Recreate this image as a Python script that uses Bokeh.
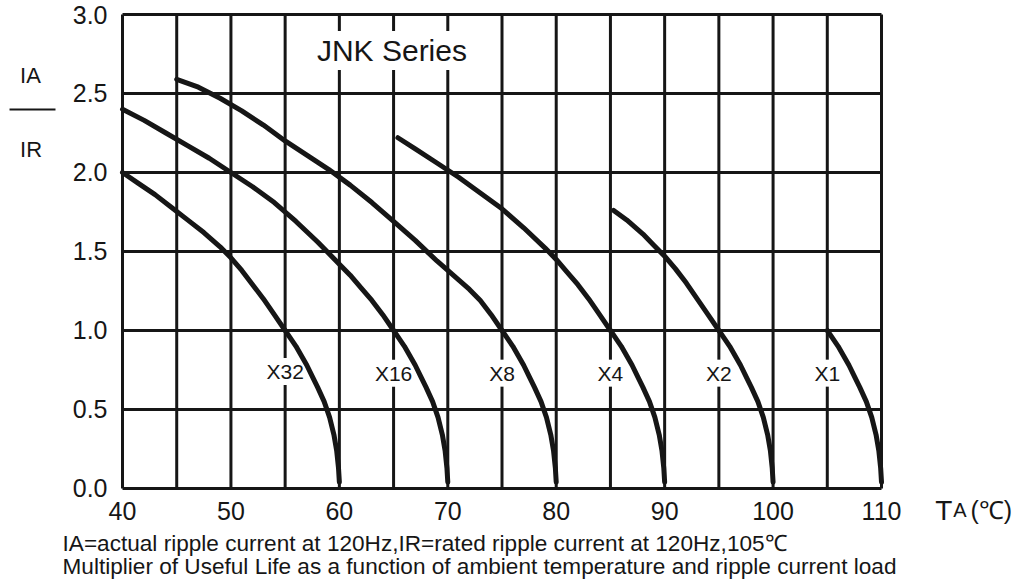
from bokeh.plotting import figure
from bokeh.models import (Range1d, FixedTicker, PrintfTickFormatter, Label, Arrow,
                          ColumnDataSource, LinearAxis)
from bokeh.core.properties import value
from bokeh.embed import file_html
from bokeh.resources import INLINE

# ---- data ----
x32_t = [40, 41.5, 43, 44.5, 46, 47.5, 49, 50, 51, 52, 53, 54, 55,
         55.5, 56, 56.5, 57, 57.5, 58, 58.6, 59.1, 59.5, 59.75, 59.92, 60]
x32_r = [2.00, 1.93, 1.86, 1.78, 1.70, 1.62, 1.53, 1.46, 1.38, 1.29, 1.20, 1.10, 1.00,
         0.95, 0.90, 0.84, 0.78, 0.71, 0.64, 0.55, 0.45, 0.34, 0.24, 0.13, 0.04]

x16_t = [40, 42, 44, 46, 48, 50, 52, 54, 56, 58, 60, 61, 62, 63, 64, 65,
         65.5, 66, 66.5, 67, 67.5, 68, 68.6, 69.1, 69.5, 69.75, 69.92, 70]
x16_r = [2.40, 2.33, 2.25, 2.17, 2.09, 2.00, 1.91, 1.81, 1.69, 1.56, 1.42, 1.35, 1.27, 1.19, 1.10, 1.00,
         0.95, 0.90, 0.84, 0.78, 0.71, 0.64, 0.55, 0.45, 0.34, 0.24, 0.13, 0.04]

x8_t = [45, 47, 49, 51, 53, 55, 57, 59, 61, 63, 65, 67, 69, 70, 71, 72, 73, 74, 75,
        75.5, 76, 76.5, 77, 77.5, 78, 78.6, 79.1, 79.5, 79.75, 79.92, 80]
x8_r = [2.59, 2.54, 2.47, 2.39, 2.30, 2.20, 2.11, 2.02, 1.92, 1.81, 1.69, 1.57, 1.44, 1.38, 1.32, 1.26, 1.19, 1.10, 1.00,
        0.95, 0.90, 0.84, 0.78, 0.71, 0.64, 0.55, 0.45, 0.34, 0.24, 0.13, 0.04]

x4_t = [65.4, 67, 69, 71, 73, 75, 77, 79, 80, 81, 82, 83, 84, 85,
        85.5, 86, 86.5, 87, 87.5, 88, 88.6, 89.1, 89.5, 89.75, 89.92, 90]
x4_r = [2.22, 2.15, 2.06, 1.97, 1.87, 1.77, 1.65, 1.52, 1.45, 1.37, 1.29, 1.20, 1.10, 1.00,
        0.95, 0.90, 0.84, 0.78, 0.71, 0.64, 0.55, 0.45, 0.34, 0.24, 0.13, 0.04]

x2_t = [85.3, 86.5, 88, 89, 90, 91, 92, 93, 94, 95,
        95.5, 96, 96.5, 97, 97.5, 98, 98.6, 99.1, 99.5, 99.75, 99.92, 100]
x2_r = [1.76, 1.70, 1.61, 1.54, 1.47, 1.39, 1.30, 1.20, 1.10, 1.00,
        0.95, 0.90, 0.84, 0.78, 0.71, 0.64, 0.55, 0.45, 0.34, 0.24, 0.13, 0.04]

x1_t = [105, 105.5, 106, 106.5, 107, 107.5, 108, 108.6, 109.1, 109.5, 109.75, 109.92, 110]
x1_r = [1.00, 0.95, 0.90, 0.84, 0.78, 0.71, 0.64, 0.55, 0.45, 0.34, 0.24, 0.13, 0.04]

series_names = ["X32", "X16", "X8", "X4", "X2", "X1"]
x_ticks = [40, 50, 60, 70, 80, 90, 100, 110]
y_ticks = [0.0, 0.5, 1.0, 1.5, 2.0, 2.5, 3.0]
grid_x = [40, 45, 50, 55, 60, 65, 70, 75, 80, 85, 90, 95, 100, 105, 110]

# ---- layout (not data) ----
label_x = [55, 65, 75, 85, 95, 105]
label_y = [0.74, 0.73, 0.73, 0.73, 0.73, 0.73]

FONT = "Liberation Sans"
INK = "#161616"

p = figure(width=1016, height=584, output_backend="svg", toolbar_location=None,
           title=None, x_axis_type=None, y_axis_type=None,
           x_range=Range1d(28.748, 122.45), y_range=Range1d(-0.6076, 3.0886),
           min_border=0)
p.outline_line_color = None
p.background_fill_color = "white"
p.border_fill_color = "white"

# grid (frame edges included)
p.segment(x0=grid_x, y0=[y_ticks[0]] * len(grid_x), x1=grid_x, y1=[y_ticks[-1]] * len(grid_x),
          line_color=INK, line_width=3)
p.segment(x0=[grid_x[0]] * len(y_ticks), y0=y_ticks, x1=[grid_x[-1]] * len(y_ticks), y1=y_ticks,
          line_color=INK, line_width=3)

# axes anchored at the plot corner
yax = LinearAxis(fixed_location=grid_x[0], bounds=(y_ticks[0], y_ticks[-1]),
                 ticker=FixedTicker(ticks=y_ticks), formatter=PrintfTickFormatter(format="%.1f"))
xax = LinearAxis(fixed_location=y_ticks[0], bounds=(grid_x[0], grid_x[-1]),
                 ticker=FixedTicker(ticks=x_ticks))
for ax in (xax, yax):
    ax.axis_line_color = None
    ax.major_tick_line_color = None
    ax.minor_tick_line_color = None
    ax.major_label_text_font = FONT
    ax.major_label_text_font_size = "25px"
    ax.major_label_text_color = INK
xax.major_label_standoff = 8
yax.major_label_standoff = 9
p.add_layout(yax, "left")
p.add_layout(xax, "below")

# labels with white background (drawn before curves)
lab_src = ColumnDataSource(dict(x=label_x, y=label_y, text=series_names))
p.text(x="x", y="y", text="text", source=lab_src, text_font=value(FONT),
       text_font_size="21px", text_color=INK, text_align="center", text_baseline="middle",
       background_fill_color="white", padding=2)

p.text(x=[64.85], y=[2.772], text=["JNK Series"], text_font=value(FONT), text_font_size="30px",
       text_color=INK, text_align="center", text_baseline="middle",
       background_fill_color="white", padding=3)

for tt, rr in [(x32_t, x32_r), (x16_t, x16_r), (x8_t, x8_r), (x4_t, x4_r), (x2_t, x2_r), (x1_t, x1_r)]:
    p.line(tt, rr, line_color=INK, line_width=5, line_cap="round", line_join="round")

# y label IA / IR
p.add_layout(Label(x=30.55, y=2.614, text="IA", text_font=FONT, text_font_size="22px",
                   text_color=INK, text_baseline="middle", text_align="left"))
p.add_layout(Label(x=30.55, y=2.146, text="IR", text_font=FONT, text_font_size="22px",
                   text_color=INK, text_baseline="middle", text_align="left"))
p.add_layout(Arrow(start=None, end=None, x_start=29.58, y_start=2.399, x_end=33.82, y_end=2.399,
                   line_color=INK, line_width=2))

# x label TA(℃)
p.add_layout(Label(x=114.95, y=-0.139, text="T", text_font=FONT, text_font_size="28px",
                   text_color=INK, text_baseline="middle", text_align="left"))
p.add_layout(Label(x=116.62, y=-0.139, text="A", text_font=FONT, text_font_size="20px",
                   text_color=INK, text_baseline="middle", text_align="left"))
p.add_layout(Label(x=118.2, y=-0.139, text="(℃)", text_font=FONT, text_font_size="25px",
                   text_color=INK, text_baseline="middle", text_align="left"))

# footnotes
p.add_layout(Label(x=34.47, y=-0.348,
                   text="IA=actual ripple current at 120Hz,IR=rated ripple current at 120Hz,105℃",
                   text_font=FONT, text_font_size="22.6px", text_color=INK,
                   text_baseline="middle", text_align="left"))
p.add_layout(Label(x=34.47, y=-0.494,
                   text="Multiplier of Useful Life as a function of ambient temperature and ripple current load",
                   text_font=FONT, text_font_size="22.6px", text_color=INK,
                   text_baseline="middle", text_align="left"))

open("out.html", "w").write(file_html(p, INLINE))
